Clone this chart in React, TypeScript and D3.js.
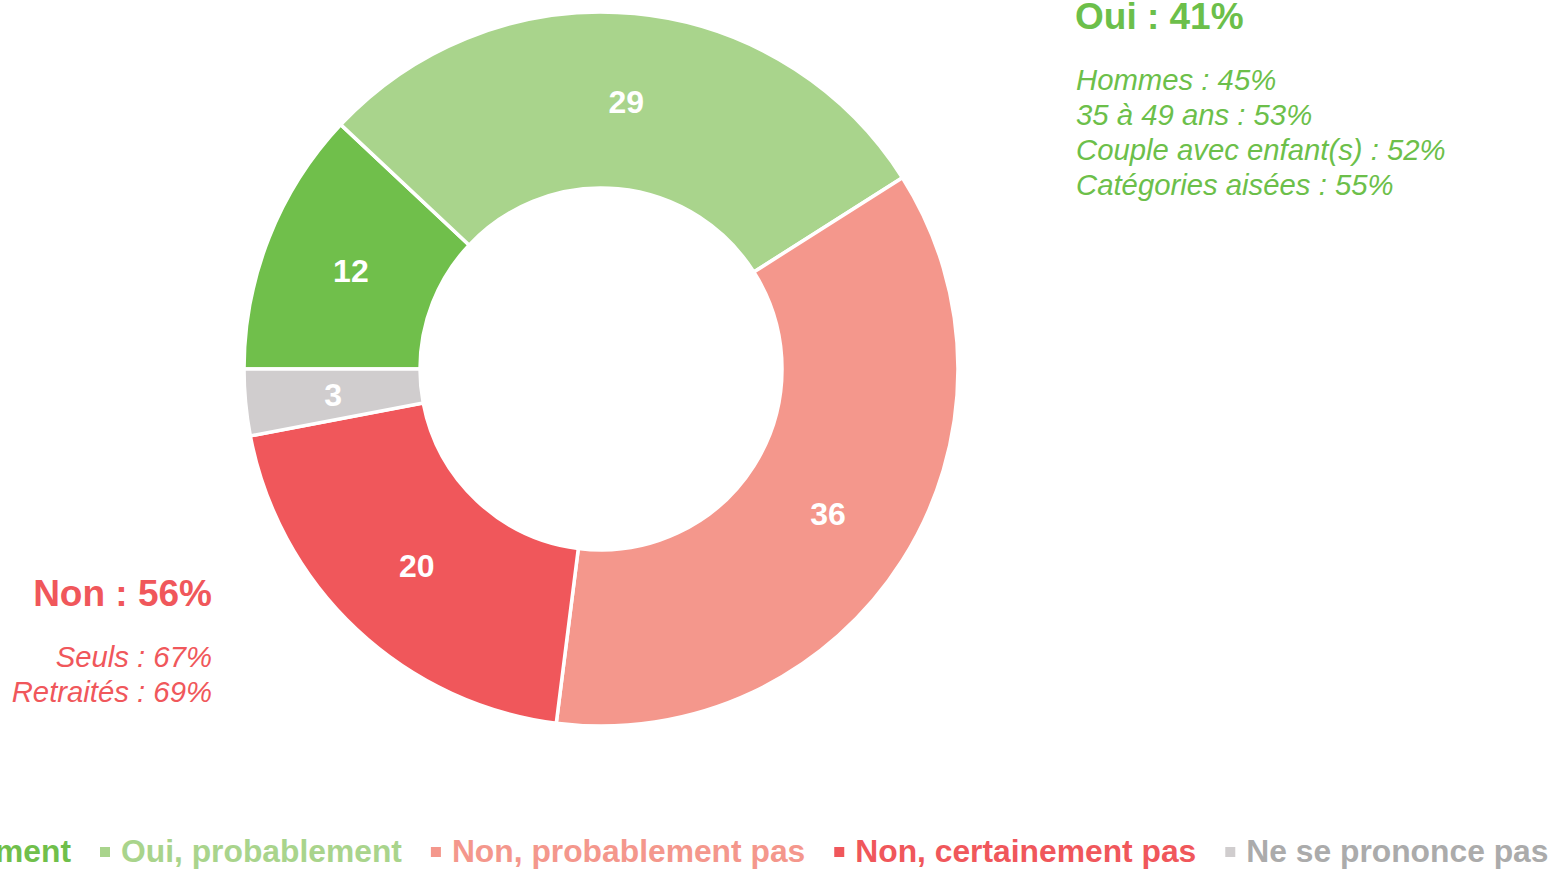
import React, { useEffect, useRef } from "react";
import * as d3 from "d3";

const categories = ["Oui, certainement", "Oui, probablement", "Non, probablement pas", "Non, certainement pas", "Ne se prononce pas"];
const values = [12, 29, 36, 20, 3];
const sliceColors = ["#70BF4B", "#A9D48C", "#F4978C", "#F0575B", "#D0CDCE"];
const legendTextColors = ["#70BF4B", "#A9D48C", "#F4978C", "#F0575B", "#ABABAB"];

const ouiTitle = "Oui : 41%";
const ouiLines = ["Hommes : 45%", "35 à 49 ans : 53%", "Couple avec enfant(s) : 52%", "Catégories aisées : 55%"];
const nonTitle = "Non : 56%";
const nonLines = ["Seuls : 67%", "Retraités : 69%"];

const W = 1559;
const H = 869;

export default function App() {
  const ref = useRef<SVGSVGElement>(null);

  useEffect(() => {
    const svg = d3.select(ref.current);
    svg.selectAll("*").remove();
    const font = "'Liberation Sans', Arial, sans-serif";

    const cx = 601, cy = 369, rOut = 357, rIn = 181;
    const pie = d3.pie<number>().sort(null).value((d) => d)
      .startAngle(-Math.PI / 2).endAngle((3 * Math.PI) / 2);
    const arcs = pie(values);
    const arc = d3.arc<d3.PieArcDatum<number>>().innerRadius(rIn).outerRadius(rOut);

    const g = svg.append("g").attr("transform", `translate(${cx},${cy})`);
    g.selectAll("path").data(arcs).enter().append("path")
      .attr("d", arc as any)
      .attr("fill", (_, i) => sliceColors[i])
      .attr("stroke", "#fff")
      .attr("stroke-width", 3.5)
      .attr("stroke-linejoin", "miter");

    g.selectAll("text.lbl").data(arcs).enter().append("text")
      .attr("class", "lbl")
      .attr("transform", (d) => `translate(${arc.centroid(d)})`)
      .attr("text-anchor", "middle")
      .attr("dy", "0.36em")
      .attr("font-family", font)
      .attr("font-weight", "bold")
      .attr("font-size", 32)
      .attr("fill", "#fff")
      .text((d) => String(d.data));

    // Oui annotation
    svg.append("text").attr("x", 1075).attr("y", 29)
      .attr("font-family", font).attr("font-weight", "bold").attr("font-size", 37)
      .attr("fill", "#6CBF4A").text(ouiTitle);
    svg.selectAll("text.oui").data(ouiLines).enter().append("text")
      .attr("class", "oui")
      .attr("x", 1076).attr("y", (_, i) => 90 + i * 35)
      .attr("font-family", font).attr("font-style", "italic").attr("font-size", 29.3)
      .attr("fill", "#6CBF4A").text((d) => d);

    // Non annotation
    svg.append("text").attr("x", 212).attr("y", 606).attr("text-anchor", "end")
      .attr("font-family", font).attr("font-weight", "bold").attr("font-size", 37)
      .attr("fill", "#F0575B").text(nonTitle);
    svg.selectAll("text.non").data(nonLines).enter().append("text")
      .attr("class", "non")
      .attr("x", 212).attr("y", (_, i) => 667 + i * 35).attr("text-anchor", "end")
      .attr("font-family", font).attr("font-style", "italic").attr("font-size", 29.3)
      .attr("fill", "#F0575B").text((d) => d);

    // Legend
    const lg = svg.append("g");
    const texts = categories.map((c, i) =>
      lg.append("text").attr("y", 862)
        .attr("font-family", font).attr("font-weight", "bold").attr("font-size", 31.8)
        .attr("fill", legendTextColors[i]).text(c)
    );
    const widths = texts.map((t) => (t.node() as SVGTextElement).getComputedTextLength());
    const sq = 10, sqGap = 11, itemGap = 29;
    const xs: number[] = [];
    let x = 100;
    for (let i = 1; i < categories.length; i++) {
      xs[i] = x;
      x += sq + sqGap + widths[i] + itemGap;
    }
    xs[0] = 100 - itemGap - widths[0] - sqGap - sq;
    categories.forEach((_, i) => {
      lg.append("rect").attr("x", xs[i]).attr("y", 847).attr("width", sq).attr("height", sq)
        .attr("fill", sliceColors[i]);
      texts[i].attr("x", xs[i] + sq + sqGap);
    });
  }, []);

  return (
    <svg ref={ref} width={W} height={H}
      style={{ position: "absolute", left: 0, top: 0, background: "#fff" }} />
  );
}
